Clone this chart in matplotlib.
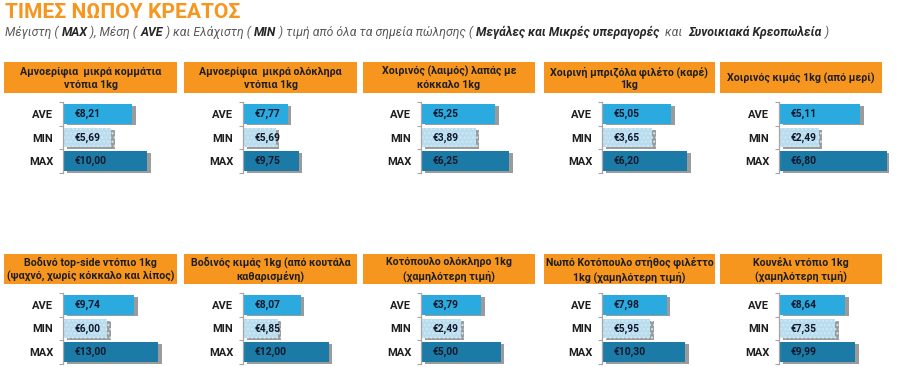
import matplotlib
matplotlib.use('Agg')
import matplotlib.pyplot as plt
import matplotlib.patheffects as pe
from matplotlib.font_manager import FontProperties

# ---------------- data ----------------
products = [
    "Αμνοερίφια  μικρά κομμάτια\nντόπια 1kg",
    "Αμνοερίφια  μικρά ολόκληρα\nντόπια 1kg",
    "Χοιρινός (λαιμός) λαπάς με\nκόκκαλο 1kg",
    "Χοιρινή μπριζόλα φιλέτο (καρέ)\n1kg",
    "Χοιρινός κιμάς 1kg (από μερί)",
    "Βοδινό top-side ντόπιο 1kg\n(ψαχνό, χωρίς κόκκαλο και λίπος)",
    "Βοδινός κιμάς 1kg (από κουτάλα\nκαθαρισμένη)",
    "Κοτόπουλο ολόκληρο 1kg\n(χαμηλότερη τιμή)",
    "Νωπό Κοτόπουλο στήθος φιλέττο\n1kg (χαμηλότερη τιμή)",
    "Κουνέλι ντόπιο 1kg\n(χαμηλότερη τιμή)",
]
categories = ["AVE", "MIN", "MAX"]
ave_prices = [8.21, 7.77, 5.25, 5.05, 5.11, 9.74, 8.07, 3.79, 7.98, 8.64]
min_prices = [5.69, 5.69, 3.89, 3.65, 2.49, 6.00, 4.85, 2.49, 5.95, 7.35]
max_prices = [10.00, 9.75, 6.25, 6.20, 6.80, 13.00, 12.00, 5.00, 10.30, 9.99]

title = "ΤΙΜΕΣ ΝΩΠΟΥ ΚΡΕΑΤΟΣ"
subtitle_parts = [
    ("Μέγιστη ( ", False), ("MAX", True), (" ), Μέση ( ", False), ("AVE", True),
    (" ) και Ελάχιστη ( ", False), ("MIN", True),
    (" ) τιμή από όλα τα σημεία πώλησης ( ", False),
    ("Μεγάλες και Μικρές υπεραγορές", True), ("  και  ", False),
    ("Συνοικιακά Κρεοπωλεία", True), (" )", False),
]

# per-panel value-axis maximum (each small chart auto-scaled separately)
axis_max = [13.05, 19.2, 7.8, 8.0, 6.9, 15.0, 15.4, 6.9, 13.6, 14.4]

# ---------------- style / layout ----------------
W, H, DPI = 900, 367, 100
FONT = ["Roboto", "DejaVu Sans"]
plt.rcParams["font.family"] = FONT

ORANGE = "#F7961E"
C_AVE = "#2BAAE0"
C_MIN = "#B9DDEE"
C_MIN_DOTS = "#CFE8F4"
C_MAX = "#1C7BA6"
AXIS_GRAY = "#A6A6A6"

col_axis_left = [63, 243, 421, 602, 779]
col_head_left = [4, 184, 363, 544, 720]
col_head_w = [173, 173, 172, 171, 162]
row_head_top = [62, 254]
row_head_h = [31, 30]
row_plot_top = [102, 293]
PLOT_H = 71
PLOT_W = 110

fig = plt.figure(figsize=(W / DPI, H / DPI), dpi=DPI)
fig.patch.set_facecolor("white")


def rect(left, top, w, h):
    return [left / W, 1 - (top + h) / H, w / W, h / H]


renderer = fig.canvas.get_renderer()


def text_width(s, prop):
    w1, _, _ = renderer.get_text_width_height_descent("|" + s + "|", prop, ismath=False)
    w0, _, _ = renderer.get_text_width_height_descent("||", prop, ismath=False)
    return w1 - w0


# ---- title ----
tprop = FontProperties(family=FONT, size=16, weight="bold")
tw = text_width(title, tprop)
tsize = 16 * 236 / tw
fig.text(5 / W, 1 - 18.5 / H, title, fontsize=tsize, color=ORANGE,
         fontweight="bold", ha="left", va="baseline")

# ---- subtitle with mixed bold/normal italic ----
def sub_prop(bold, size):
    return FontProperties(family=FONT, size=size, style="italic",
                          weight="bold" if bold else "normal")

base = 9.0
total = sum(text_width(s, sub_prop(b, base)) for s, b in subtitle_parts)
ssize = base * 828 / total
x = 5.0
for s, b in subtitle_parts:
    p = sub_prop(b, ssize)
    fig.text(x / W, 1 - 36 / H, s, fontproperties=p,
             color="#262626" if b else "#595959", ha="left", va="baseline")
    x += text_width(s, p)

# ---------------- panels ----------------
shadow = [pe.SimplePatchShadow(offset=(2.6, -1.3), shadow_rgbFace="#7A7A7A", alpha=0.75),
          pe.Normal()]

for i in range(len(products)):
    r, c = divmod(i, 5)
    # header
    hax = fig.add_axes(rect(col_head_left[c], row_head_top[r], col_head_w[c], row_head_h[r]))
    hax.set_facecolor(ORANGE)
    hax.set_xticks([]); hax.set_yticks([])
    for s in hax.spines.values():
        s.set_visible(False)
    hax.text(0.5, 0.48, products[i], ha="center", va="center", fontsize=7.7,
             fontweight="bold", color="#1E1E1E", linespacing=1.35,
             transform=hax.transAxes)

    # bars
    ax = fig.add_axes(rect(col_axis_left[c], row_plot_top[r], PLOT_W, PLOT_H))
    vals = [ave_prices[i], min_prices[i], max_prices[i]]
    ypos = [2, 1, 0]
    colors = [C_AVE, C_MIN, C_MAX]
    for y, v, col, cat in zip(ypos, vals, colors, categories):
        if cat == "MIN":
            b = ax.barh(y, v, height=0.82, color=col, edgecolor=C_MIN_DOTS,
                        linewidth=0, hatch="....")
        else:
            b = ax.barh(y, v, height=0.82, color=col, linewidth=0)
        for patch in b:
            patch.set_path_effects(shadow)
        ax.annotate("€" + f"{v:.2f}".replace(".", ","), xy=(0, y), xytext=(8.5, 0),
                    textcoords="offset points", va="center", ha="left",
                    fontsize=7.4, fontweight="bold", color="#10182A")
    ax.set_xlim(0, axis_max[i])
    ax.set_ylim(-0.5, 2.5)
    ax.set_yticks(ypos)
    ax.set_yticklabels(categories, fontsize=8, fontweight="bold", color="#1E1E1E")
    ax.tick_params(axis="y", which="major", length=0, pad=7)
    ax.set_yticks([-0.5, 0.5, 1.5, 2.5], minor=True)
    ax.tick_params(axis="y", which="minor", length=3, width=0.8, color=AXIS_GRAY,
                   direction="out")
    ax.set_xticks([])
    for side in ("top", "right", "bottom"):
        ax.spines[side].set_visible(False)
    ax.spines["left"].set_color(AXIS_GRAY)
    ax.spines["left"].set_linewidth(0.9)
    ax.set_facecolor("none")

fig.savefig("out.png", dpi=DPI, facecolor="white")
